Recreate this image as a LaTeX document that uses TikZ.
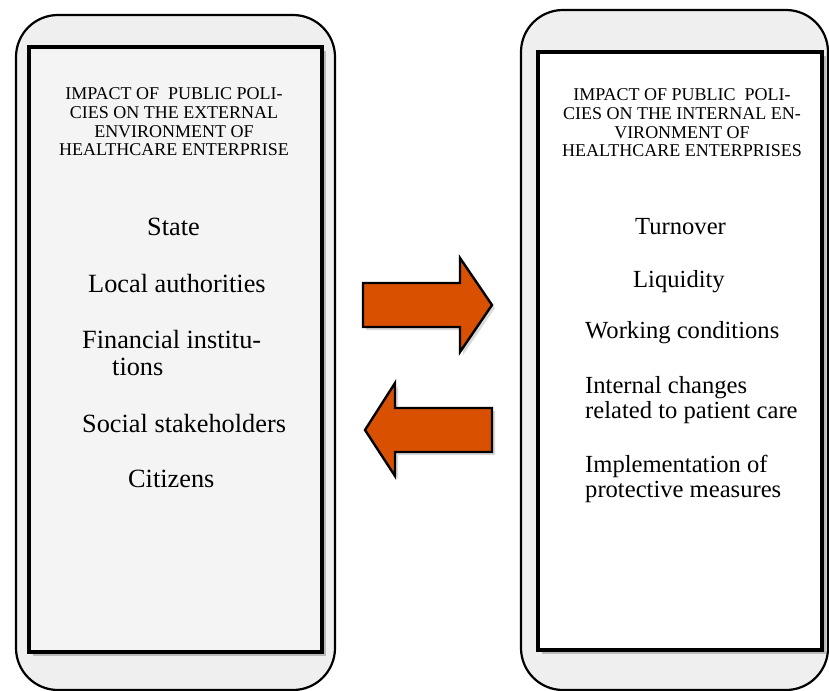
\documentclass[tikz,border=0pt]{standalone}
\usepackage{fontspec}
\setmainfont{Liberation Serif}
\definecolor{outerfill}{RGB}{239,239,239}
\definecolor{paper}{RGB}{244,244,244}
\definecolor{arroworange}{RGB}{217,81,0}
\definecolor{shadowgray}{RGB}{150,150,150}
\tikzset{
  outerbox/.style={draw=black, line width=2.2bp, fill=outerfill, rounded corners=42bp},
  innerbox/.style={draw=black, line width=4.5bp},
  boxshadow/.style={fill=shadowgray, draw=none, opacity=0.6},
  bigarrow/.style={draw=black, line width=2.4bp, fill=arroworange, line join=miter},
  arrowshadow/.style={fill=shadowgray, draw=none, opacity=0.35},
  titletext/.style={font=\fontsize{18bp}{18.7bp}\selectfont, align=center, anchor=base, inner sep=0pt},
  ltext/.style={font=\fontsize{26.3bp}{26.3bp}\selectfont, anchor=base west, inner sep=0pt},
  rtext/.style={font=\fontsize{24.6bp}{24.6bp}\selectfont, anchor=base west, inner sep=0pt}
}
\begin{document}
\begin{tikzpicture}[x=1bp, y=-1bp]
\useasboundingbox (0,0) rectangle (829,691);
% outer rounded boxes
\draw[outerbox] (16,15) rectangle (335,690);
\draw[outerbox] (521,10) rectangle (828,690);
% inner rectangles with shadows
\fill[boxshadow] (33,51) rectangle (326,656);
\fill[boxshadow] (542,56) rectangle (826,654);
\draw[innerbox, fill=paper] (29,47) rectangle (322,652);
\draw[innerbox, fill=white] (538,52) rectangle (822,650);
% titles (base anchor = baseline of the last line)
\node[titletext] (ltitle) at (174,156) {IMPACT OF\ \ PUBLIC POLI-\\CIES ON THE EXTERNAL\\ENVIRONMENT OF\\HEALTHCARE ENTERPRISE};
\node[titletext] (rtitle) at (682,157) {IMPACT OF PUBLIC\ \ POLI-\\CIES ON THE INTERNAL EN-\\VIRONMENT OF\\HEALTHCARE ENTERPRISES};
% left list
\node[ltext] (state) at (147,235) {State};
\node[ltext] (local) at (88,292) {Local authorities};
\node[ltext] (fin1) at (82,348) {Financial institu-};
\node[ltext] (fin2) at (112,375) {tions};
\node[ltext] (social) at (82,432) {Social stakeholders};
\node[ltext] (citizens) at (128,487) {Citizens};
% right list
\node[rtext] (turnover) at (635,234) {Turnover};
\node[rtext] (liquidity) at (633,287) {Liquidity};
\node[rtext] (working) at (585,338) {Working conditions};
\node[rtext] (internal1) at (585,393) {Internal changes};
\node[rtext] (internal2) at (585,418) {related to patient care};
\node[rtext] (impl1) at (585,472) {Implementation of};
\node[rtext] (impl2) at (585,497) {protective measures};
% arrows
\fill[arrowshadow] (366,286) -- (463,286) -- (463,261) -- (495,308) -- (463,355) -- (463,330) -- (366,330) -- cycle;
\fill[arrowshadow] (495,411) -- (398,411) -- (398,386) -- (368,433) -- (398,479) -- (398,455) -- (495,455) -- cycle;
\draw[bigarrow] (363,283) -- (460,283) -- (460,258) -- (492,305) -- (460,352) -- (460,327) -- (363,327) -- cycle;
\draw[bigarrow] (492,408) -- (395,408) -- (395,383) -- (365,430) -- (395,476) -- (395,452) -- (492,452) -- cycle;
\end{tikzpicture}
\end{document}
